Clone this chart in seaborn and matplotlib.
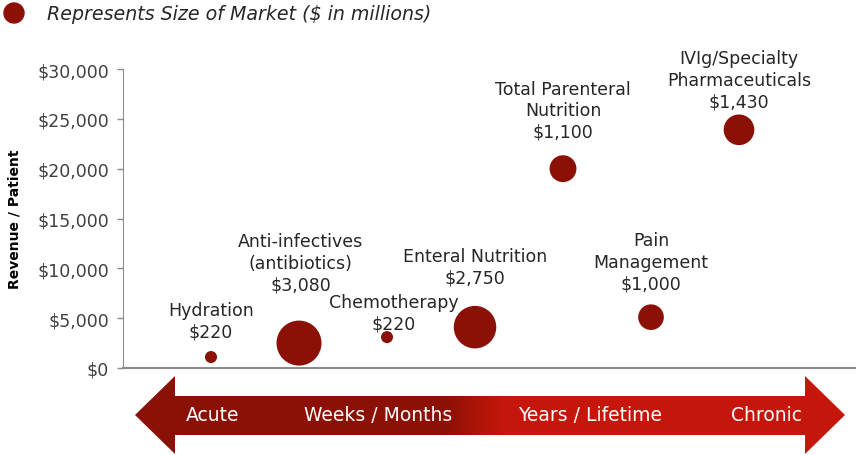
import numpy as np
import pandas as pd
import matplotlib
matplotlib.use("Agg")
import matplotlib.pyplot as plt
import seaborn as sns
from matplotlib.patches import Polygon, Circle
from matplotlib.ticker import FuncFormatter

# values
categories = ["Hydration", "Anti-infectives\n(antibiotics)", "Chemotherapy",
              "Enteral Nutrition", "Total Parenteral\nNutrition",
              "Pain\nManagement", "IVIg/Specialty\nPharmaceuticals"]
order = [1, 2, 3, 4, 5, 6, 7]
revenue = [1100, 2500, 3100, 4100, 20000, 5100, 23900]
market = [220, 3080, 220, 2750, 1100, 1000, 1430]
stages = ["Acute", "Weeks / Months", "Years / Lifetime", "Chronic"]

# label offsets from bubble centre (points)
label_dx = [0, 1, 5, 0, 0, 0, 0]
label_dy = [12, 36, 3, 29, 20, 18, 14]
stage_x = [213, 378, 590, 767]

DARK = "#8B1106"
BRIGHT = "#C4160A"
TXT = "#262626"

df = pd.DataFrame({"category": categories, "order": order,
                   "revenue": revenue, "market": market})

sns.set_style("white")
plt.rcParams["font.family"] = ["DejaVu Sans"]

fig = plt.figure(figsize=(8.56, 4.56), dpi=100)

# overlay axes in pixel coordinates for arrow and legend
ov = fig.add_axes([0, 0, 1, 1])
ov.set_xlim(0, 856)
ov.set_ylim(456, 0)
ov.axis("off")

grad = np.zeros((1, 856, 3))
c1 = np.array(matplotlib.colors.to_rgb(DARK))
c2 = np.array(matplotlib.colors.to_rgb(BRIGHT))
for i in range(856):
    t = np.clip((i - 445) / 55.0, 0, 1)
    grad[0, i] = c1 * (1 - t) + c2 * t
arrow = Polygon([(135, 416), (175, 377), (175, 397), (805, 397), (805, 377),
                 (845, 416), (805, 455), (805, 436), (175, 436), (175, 455)],
                closed=True, transform=ov.transData, facecolor="none", edgecolor="none")
ov.add_patch(arrow)
im = ov.imshow(grad, extent=[0, 856, 456, 0], aspect="auto")
im.set_clip_path(arrow)
for sx, s in zip(stage_x, stages):
    ov.text(sx, 416, s, color="white", fontsize=13.5, ha="center", va="center")

ov.add_patch(Circle((14, 14), 10, color=DARK))
ov.text(47, 15, "Represents Size of Market ($ in millions)", fontsize=13.7,
        style="italic", color=TXT, ha="left", va="center")
ov.text(15, 219, "Revenue / Patient", fontsize=10, fontweight="bold",
        rotation=90, ha="center", va="center", color="black")

# main bubble chart
ax = fig.add_axes([123 / 856, 1 - 369 / 456, 1 - 123 / 856, 299 / 456])
ax.patch.set_alpha(0)
sns.scatterplot(data=df, x="order", y="revenue", size="market",
                sizes=(75, 1050), color=DARK, linewidth=0, legend=False,
                ax=ax, clip_on=False, zorder=3)
ax.set_xlim(0, 733 / 88)
ax.set_ylim(0, 30000)
ax.set_yticks(range(0, 30001, 5000))
ax.yaxis.set_major_formatter(FuncFormatter(lambda v, p: f"${v:,.0f}"))
ax.set_xticks([])
ax.set_xlabel("")
ax.set_ylabel("")
ax.tick_params(axis="y", direction="out", length=4, width=1, color="#8c8c8c",
               labelsize=12.5, labelcolor="#404040", pad=6, left=True)
for side in ["top", "right"]:
    ax.spines[side].set_visible(False)
ax.spines["left"].set_color("#8c8c8c")
ax.spines["bottom"].set_color("#8c8c8c")
ax.spines["bottom"].set_linewidth(1.5)

for i, cat in enumerate(categories):
    ax.annotate(cat + "\n" + "${:,}".format(market[i]),
                (order[i], revenue[i]), xytext=(label_dx[i], label_dy[i]),
                textcoords="offset points", ha="center", va="bottom",
                fontsize=12.5, color=TXT, linespacing=1.25,
                annotation_clip=False)

fig.savefig("out.png", dpi=100)
